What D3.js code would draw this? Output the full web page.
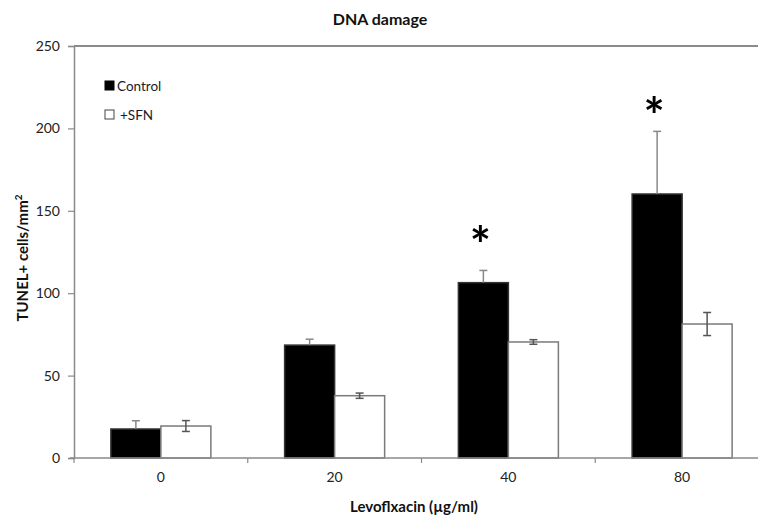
<!DOCTYPE html>
<html>
<head>
<meta charset="utf-8">
<script src="https://cdn.jsdelivr.net/npm/d3@7"></script>
<style>
  body { margin: 0; background: #fff; }
  svg { display: block; }
  text { font-family: Lato, "Open Sans", sans-serif; }
</style>
</head>
<body>
<svg id="chart" width="758" height="519"></svg>
<script>
// ---- data ----
const categories = ["0", "20", "40", "80"];
const seriesNames = ["Control", "+SFN"];
const controlValues = [17.6, 68.5, 106.4, 160.2];
const controlErrors = [5.0, 3.6, 7.4, 38.0];
const sfnValues = [19.4, 37.8, 70.4, 81.3];
const sfnErrors = [3.3, 1.6, 1.4, 7.0];
const asteriskLevels = [null, null, 136, 214];
const yTicks = [0, 50, 100, 150, 200, 250];
const titleText = "DNA damage";
const xTitle = "Levoflxacin (\u00b5g/ml)";

// ---- layout ----
const svg = d3.select("#chart");
const plotLeft = 74, plotRight = 769, plotTop = 46, plotBottom = 458;

const x0 = d3.scaleBand().domain(categories).range([plotLeft, plotRight]).padding(0);
const x1 = d3.scaleBand().domain(seriesNames).range([0, 100]).padding(0);
const groupOffset = (x0.bandwidth() - 100) / 2;
const y = d3.scaleLinear().domain([0, 250]).range([plotBottom, plotTop]);

const axisColor = "#8a8a8a";

// top border line
svg.append("line")
  .attr("x1", plotLeft).attr("x2", 758).attr("y1", y(250)).attr("y2", y(250))
  .attr("stroke", axisColor).attr("stroke-width", 2);

// y axis
const yAxis = svg.append("g")
  .attr("transform", `translate(${plotLeft},0)`)
  .call(d3.axisLeft(y).tickValues(yTicks).tickSize(6).tickPadding(8));
yAxis.select(".domain").attr("stroke", axisColor).attr("stroke-width", 1.5);
yAxis.selectAll(".tick line").attr("stroke", axisColor).attr("stroke-width", 1.2);
yAxis.selectAll(".tick text").attr("font-size", 14).attr("fill", "#222");

// bars data
const data = categories.map((c, i) => ({
  cat: c,
  vals: [
    { s: "Control", v: controlValues[i], e: controlErrors[i] },
    { s: "+SFN", v: sfnValues[i], e: sfnErrors[i] }
  ],
  star: asteriskLevels[i]
}));

const groups = svg.append("g").selectAll("g")
  .data(data).join("g")
  .attr("transform", d => `translate(${x0(d.cat) + groupOffset},0)`);

groups.selectAll("rect")
  .data(d => d.vals).join("rect")
  .attr("x", d => x1(d.s))
  .attr("width", x1.bandwidth())
  .attr("y", d => y(d.v))
  .attr("height", d => y(0) - y(d.v))
  .attr("fill", d => d.s === "Control" ? "#000" : "#fff")
  .attr("stroke", d => d.s === "Control" ? "#333" : "#7a7a7a")
  .attr("stroke-width", 1.5);

// error bars
groups.selectAll("g.err")
  .data(d => d.vals).join("g").attr("class", "err")
  .each(function(d) {
    const g = d3.select(this);
    const cx = x1(d.s) + x1.bandwidth() / 2;
    const col = d.s === "Control" ? "#888" : "#555";
    const lo = d.s === "Control" ? d.v : d.v - d.e;
    g.append("line").attr("x1", cx).attr("x2", cx)
      .attr("y1", y(lo)).attr("y2", y(d.v + d.e))
      .attr("stroke", col).attr("stroke-width", 1.5);
    g.append("line").attr("x1", cx - 4).attr("x2", cx + 4)
      .attr("y1", y(d.v + d.e)).attr("y2", y(d.v + d.e))
      .attr("stroke", col).attr("stroke-width", 1.5);
    if (d.s !== "Control") {
      g.append("line").attr("x1", cx - 4).attr("x2", cx + 4)
        .attr("y1", y(d.v - d.e)).attr("y2", y(d.v - d.e))
        .attr("stroke", col).attr("stroke-width", 1.5);
    }
  });

// asterisks
groups.filter(d => d.star !== null).append("text")
  .attr("x", x1("Control") + x1.bandwidth() / 2 - 3)
  .attr("y", d => y(d.star))
  .attr("text-anchor", "middle")
  .attr("font-size", 50)
  .attr("font-weight", "bold")
  .attr("fill", "#000")
  .attr("font-family", "DejaVu Sans")
  .attr("dy", "0.58em")
  .text("*");

// x axis
const xAxis = svg.append("g")
  .attr("transform", `translate(0,${plotBottom})`)
  .call(d3.axisBottom(x0).tickSize(0).tickPadding(14));
xAxis.select(".domain").remove();
xAxis.selectAll(".tick text").attr("font-size", 14).attr("fill", "#222");
svg.append("line").attr("x1", plotLeft - 4).attr("x2", 758)
  .attr("y1", plotBottom).attr("y2", plotBottom)
  .attr("stroke", axisColor).attr("stroke-width", 1.5);
svg.append("g").selectAll("line")
  .data(categories).join("line")
  .attr("x1", d => x0(d)).attr("x2", d => x0(d))
  .attr("y1", plotBottom).attr("y2", plotBottom + 5)
  .attr("stroke", axisColor).attr("stroke-width", 1.2);

// title
svg.append("text").attr("x", 380).attr("y", 25)
  .attr("text-anchor", "middle").attr("font-size", 16).attr("font-weight", "bold")
  .attr("fill", "#111").text(titleText);

// x title
svg.append("text").attr("x", 414).attr("y", 512)
  .attr("text-anchor", "middle").attr("font-size", 15).attr("font-weight", "bold")
  .attr("fill", "#111").text(xTitle);

// y title
const yt = svg.append("text")
  .attr("transform", "translate(28,258) rotate(-90)")
  .attr("text-anchor", "middle").attr("font-size", 15).attr("font-weight", "bold")
  .attr("fill", "#111");
yt.append("tspan").text("TUNEL+ cells/mm");
yt.append("tspan").attr("font-size", 10).attr("dy", -6).text("2");

// legend
const legend = svg.append("g");
seriesNames.forEach((s, i) => {
  const ly = 81 + i * 29;
  legend.append("rect").attr("x", 105).attr("y", ly).attr("width", 9).attr("height", 9)
    .attr("fill", i === 0 ? "#000" : "#fff")
    .attr("stroke", i === 0 ? "#000" : "#444").attr("stroke-width", 1);
  legend.append("text").attr("x", i === 0 ? 117 : 120).attr("y", ly + 9.5)
    .attr("font-size", 13.5).attr("fill", "#1a1a2a").text(s);
});
</script>
</body>
</html>
